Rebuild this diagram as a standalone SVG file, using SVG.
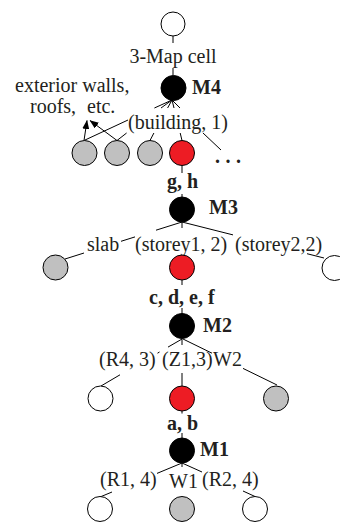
<svg xmlns="http://www.w3.org/2000/svg" width="340" height="523" viewBox="0 0 340 523">
  <style>
    text { font-family: "Liberation Serif", "Times New Roman", serif; font-size: 20px; fill: #231f20; }
    .b { font-weight: bold; }
    .edge { fill: none; stroke: #000; stroke-width: 1; }
    .node { stroke: #000; stroke-width: 1; }
    .white { fill: #fff; }
    .gray { fill: #c0c0c0; }
    .red { fill: #ed1c24; }
    .black { fill: #000; }
  </style>
  <defs>
    <marker id="arrow" markerUnits="userSpaceOnUse" markerWidth="9" markerHeight="7" refX="8.5" refY="3.5" orient="auto">
      <path d="M0,0 L9,3.5 L0,7 z" fill="#000"/>
    </marker>
  </defs>

  <!-- connectors: each line is broken where a label sits on it -->
  <g id="connectors">
    <path class="edge" d="M173,36 L173,43 M173,68 L173,75.5"/>
    <!-- M4 to its children -->
    <path class="edge" d="M172,100 L154.4,108 M128,120 L84,140.5"/>
    <path class="edge" d="M172,100 L161,108 M126.6,133 L117,140.5"/>
    <path class="edge" d="M172,100 L167.6,108 M153.9,133 L150,140.5"/>
    <path class="edge" d="M172,100 L174,108 M180.2,133 L182,140.5"/>
    <path class="edge" d="M172,100 L180,108 M203,133 L221,150"/>
    <!-- pointers to the exterior walls / roofs note -->
    <path class="edge" d="M84,140.5 L87,120.5" marker-end="url(#arrow)"/>
    <path class="edge" d="M117,140.5 L90,120.5" marker-end="url(#arrow)"/>
    <!-- M3 -->
    <path class="edge" d="M182,165.5 L182,173 M182,194 L182,197"/>
    <path class="edge" d="M182,222 L156,230.2 M135,236.9 L121,241.3 M84,253 L65,259"/>
    <path class="edge" d="M182,222 L182,228"/>
    <path class="edge" d="M182,222 L233,234.9 M307,253.7 L324,258"/>
    <!-- M2 -->
    <path class="edge" d="M182,280 L182,285 M182,308 L182,313.5"/>
    <path class="edge" d="M182,339 L168,347.1 M159.5,352 L157.5,353.2 M120,374.8 L101,386"/>
    <path class="edge" d="M182,339 L182,345 M182,373 L182,386"/>
    <path class="edge" d="M183,339 L212,353.2 M243,368.4 L277,385"/>
    <!-- M1 -->
    <path class="edge" d="M182,411 L182,413.5 M182,433 L182,438"/>
    <path class="edge" d="M182,463 L157,473.4 M112,492 L100,497"/>
    <path class="edge" d="M182,463 L182,467"/>
    <path class="edge" d="M182,463 L202,472 M243,491 L255,496.5"/>
  </g>

  <!-- edge labels -->
  <g id="labels">
    <text x="173" y="62.5" text-anchor="middle">3-Map cell</text>
    <text x="15" y="91.5">exterior walls,</text>
    <text x="30" y="113">roofs,<tspan x="87">etc.</tspan></text>
    <text x="128" y="128.5">(building, 1)</text>
    <text x="215" y="163" class="b" letter-spacing="5.5">...</text>
    <text x="167" y="188" class="b">g, h</text>
    <text x="87" y="251">slab</text>
    <text x="135" y="251">(storey1, 2)</text>
    <text x="235" y="251">(storey2,2)</text>
    <text x="149" y="303.5" class="b">c, d, e, f</text>
    <text x="99" y="365.5">(R4, 3)</text>
    <text x="162" y="365.5">(Z1,3)</text>
    <text x="213" y="365.5">W2</text>
    <text x="167" y="430" class="b">a, b</text>
    <text x="100" y="485.5">(R1, 4)</text>
    <text x="169" y="488">W1</text>
    <text x="202" y="485.5">(R2, 4)</text>
  </g>

  <!-- nodes -->
  <g id="cell"><circle class="node white" cx="173" cy="24" r="12"/></g>
  <g id="m4"><circle class="node black" cx="173.5" cy="88" r="12.5"/><text x="192" y="94" class="b">M4</text></g>
  <g id="part-1"><circle class="node gray" cx="84.5" cy="153" r="12.5"/></g>
  <g id="part-2"><circle class="node gray" cx="117" cy="153" r="12.5"/></g>
  <g id="part-3"><circle class="node gray" cx="150" cy="153" r="12.5"/></g>
  <g id="building"><circle class="node red" cx="182" cy="153" r="12.5"/></g>
  <g id="m3"><circle class="node black" cx="182" cy="209.5" r="12.5"/><text x="209" y="214" class="b">M3</text></g>
  <g id="slab"><circle class="node gray" cx="55.5" cy="267.5" r="12.5"/></g>
  <g id="storey1"><circle class="node red" cx="182" cy="267.5" r="12.5"/></g>
  <g id="storey2"><circle class="node white" cx="334.5" cy="268" r="12.5"/></g>
  <g id="m2"><circle class="node black" cx="182" cy="326" r="12.5"/><text x="203" y="332" class="b">M2</text></g>
  <g id="r4"><circle class="node white" cx="100.5" cy="398.5" r="12.5"/></g>
  <g id="z1"><circle class="node red" cx="182" cy="398.5" r="12.5"/></g>
  <g id="w2"><circle class="node gray" cx="276" cy="398.5" r="12.5"/></g>
  <g id="m1"><circle class="node black" cx="182" cy="450.5" r="12.5"/><text x="200" y="456" class="b">M1</text></g>
  <g id="r1"><circle class="node white" cx="100" cy="509" r="12.5"/></g>
  <g id="w1"><circle class="node gray" cx="182" cy="509" r="12.5"/></g>
  <g id="r2"><circle class="node white" cx="255" cy="509" r="12.5"/></g>
</svg>
